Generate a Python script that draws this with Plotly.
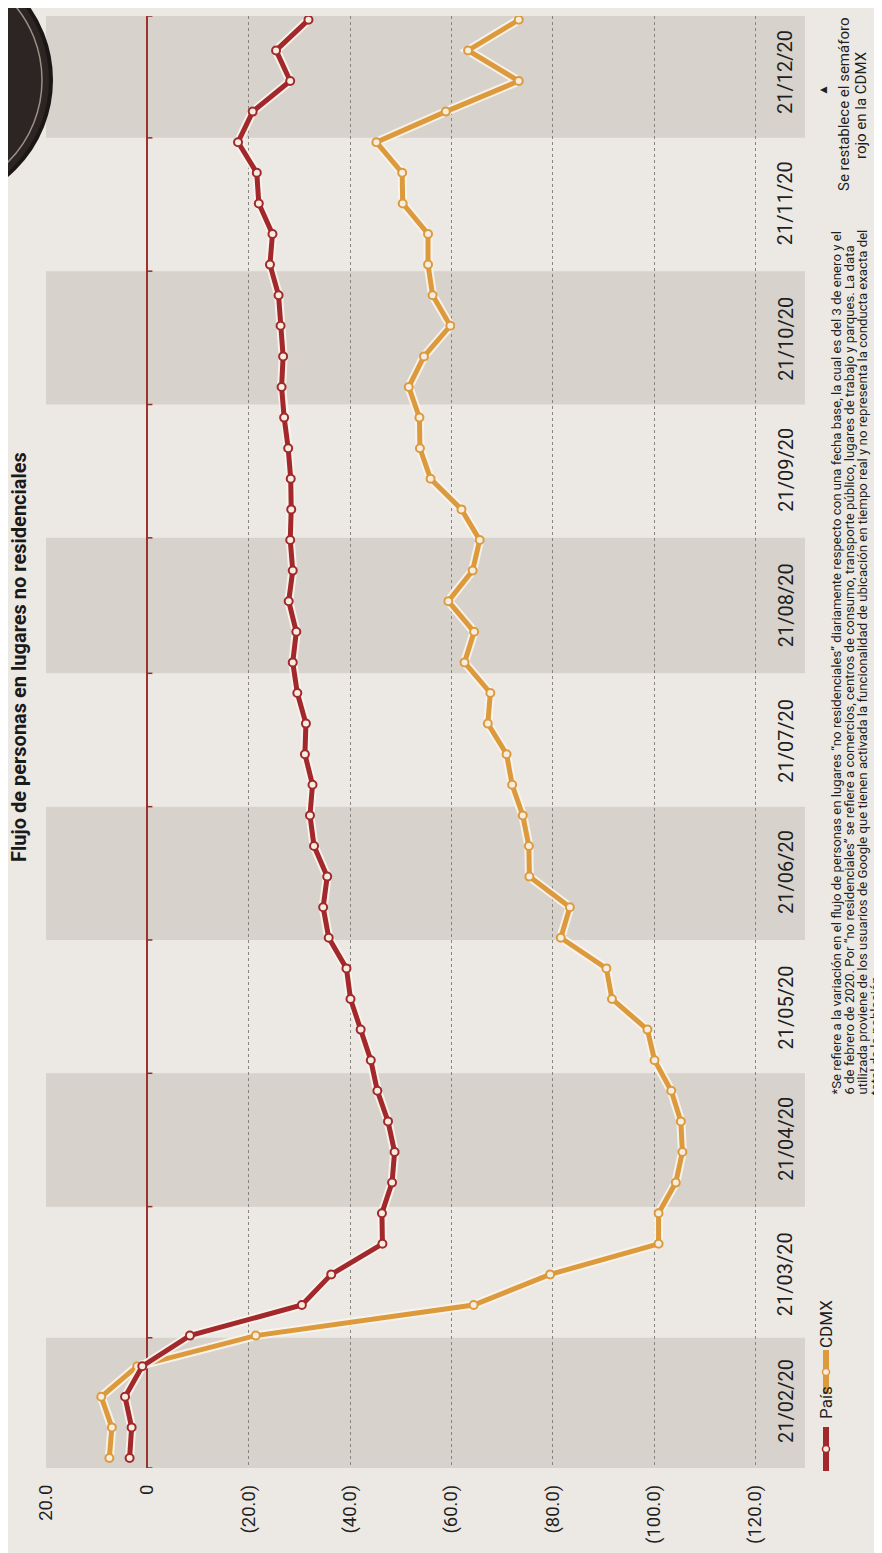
import plotly.graph_objects as go
import pandas as pd

# ---------------- data ----------------
start_date = "2020-02-08"
n_points = 48
pais = [3.5, 3.1, 4.4, 1.0, -8.4, -30.5, -36.3, -46.4, -46.3, -48.3, -48.8, -47.5, -45.4, -44.1,
        -42.1, -40.1, -39.3, -35.8, -34.7, -35.5, -32.9, -32.1, -32.6, -31.1, -31.3, -29.6, -28.7,
        -29.4, -27.9, -28.7, -28.2, -28.4, -28.3, -27.8, -27.0, -26.5, -26.8, -26.3, -25.9, -24.2,
        -24.7, -22.0, -21.6, -17.9, -20.8, -28.2, -25.4, -31.8]
cdmx = [7.5, 7.0, 9.1, 2.0, -21.4, -64.4, -79.5, -100.9, -100.9, -104.3, -105.6, -105.3, -103.4, -100.1,
        -98.7, -91.7, -90.6, -81.6, -83.4, -75.4, -75.3, -74.1, -72.0, -70.9, -67.2, -67.7, -62.6,
        -64.5, -59.4, -64.2, -65.6, -62.0, -55.9, -53.8, -53.7, -51.6, -54.6, -59.8, -56.3, -55.4,
        -55.4, -50.4, -50.3, -45.2, -58.9, -73.3, -63.3, -73.3]
tick_dates = ["2020-02-21", "2020-03-21", "2020-04-21", "2020-05-21", "2020-06-21", "2020-07-21",
              "2020-08-21", "2020-09-21", "2020-10-21", "2020-11-21", "2020-12-21"]
tick_labels = ["21/02/20", "21/03/20", "21/04/20", "21/05/20", "21/06/20", "21/07/20",
               "21/08/20", "21/09/20", "21/10/20", "21/11/20", "21/12/20"]
value_ticks = [20, 0, -20, -40, -60, -80, -100, -120]
value_labels = ["20.0", "0", "(20.0)", "(40.0)", "(60.0)", "(80.0)", "(100.0)", "(120.0)"]
series_names = ["País", "CDMX"]

title_text = "Flujo de personas en lugares no residenciales"
note_lines = [
    "*Se refiere a la variación en el flujo de personas en lugares “no residenciales” diariamente respecto con una fecha base, la cual es del 3 de enero y el",
    "6 de febrero de 2020. Por “no residenciales” se refiere a comercios, centros de consumo, transporte público, lugares de trabajo y parques. La data",
    "utilizada proviene de los usuarios de Google que tienen activada la funcionalidad de ubicación en tiempo real y no representa la conducta exacta del",
    "total de la población.",
]
event_lines = ["Se restablece el semáforo", "rojo en la CDMX"]

dates = pd.date_range(start_date, periods=n_points, freq="7D")
y_range = [pd.Timestamp("2020-02-05 17:00"), pd.Timestamp("2021-01-02 21:00")]

# ---------------- style ----------------
RED = "#a2282b"
ORANGE = "#dc9a3c"
PAPER = "#ece9e4"
GREY = "#d7d2cb"
INK = "#1f1f1f"
FONT = "Roboto"

W_FIG, H_FIG = 882, 1553
L, R, T, B = 38, 797, 8, 1460
PW, PH = R - L, B - T


def px(x):
    return (x - L) / PW


def py(y):
    return (B - y) / PH


fig = go.Figure()

# halo + lines
for vals, col, name in [(cdmx, ORANGE, series_names[1]), (pais, RED, series_names[0])]:
    fig.add_trace(go.Scatter(x=vals, y=dates, mode="lines", hoverinfo="skip",
                             line=dict(color="rgba(250,244,236,0.9)", width=9), showlegend=False))
    fig.add_trace(go.Scatter(x=vals, y=dates, mode="lines+markers", name=name,
                             line=dict(color=col, width=5),
                             marker=dict(symbol="circle", size=8, color="#f5ece2",
                                         line=dict(color=col, width=2)),
                             showlegend=False))

shapes = []
# alternating month bands
td = [pd.Timestamp(d) for d in tick_dates]
for i, d in enumerate(td):
    lo = y_range[0] if i == 0 else td[i - 1] + (d - td[i - 1]) / 2
    hi = y_range[1] if i == len(td) - 1 else d + (td[i + 1] - d) / 2
    if i % 2 == 0:
        shapes.append(dict(type="rect", xref="paper", yref="y", x0=0, x1=1, y0=lo, y1=hi,
                           fillcolor=GREY, line=dict(width=0), layer="below"))
    # tick marks on the zero axis at band boundaries
    for b in ([lo] if i == 0 else []) + [hi]:
        shapes.append(dict(type="line", xref="x", yref="y", x0=0, x1=-1.0, y0=b, y1=b,
                           line=dict(color="#8e2f2c", width=1.5), layer="above"))

# black badge circle top-left
cx, cy, r = -82, 72, 125
shapes.append(dict(type="circle", xref="paper", yref="paper",
                   x0=px(cx - r), x1=px(cx + r), y0=py(cy + r), y1=py(cy - r),
                   fillcolor="#2c2523", line=dict(color="#1c1716", width=4), layer="above"))
r2 = r - 9
shapes.append(dict(type="circle", xref="paper", yref="paper",
                   x0=px(cx - r2), x1=px(cx + r2), y0=py(cy + r2), y1=py(cy - r2),
                   fillcolor="rgba(0,0,0,0)", line=dict(color="#9c8f88", width=1.5), layer="above"))

# legend symbols (drawn manually, rotated layout)
leg = [(series_names[0], RED, 1441, 1395), (series_names[1], ORANGE, 1364, 1316)]
for name, col, ys, yt in leg:
    shapes.append(dict(type="line", xref="paper", yref="paper", x0=px(818), x1=px(818),
                       y0=py(ys + 22), y1=py(ys - 22), line=dict(color=col, width=6)))
    shapes.append(dict(type="circle", xref="paper", yref="paper",
                       x0=px(814.5), x1=px(821.5), y0=py(ys + 3.5), y1=py(ys - 3.5),
                       fillcolor="#f5ece2", line=dict(color=col, width=1.5)))

annotations = []
# date labels
for d, lab in zip(tick_dates, tick_labels):
    annotations.append(dict(x=-126, y=d, xref="x", yref="y", text=lab, showarrow=False,
                            textangle=-90, xanchor="center", yanchor="middle",
                            font=dict(family=FONT, size=20, color=INK)))
# legend texts
for name, col, ys, yt in leg:
    annotations.append(dict(x=px(818), y=py(yt), xref="paper", yref="paper", text=name,
                            showarrow=False, textangle=-90, xanchor="center", yanchor="middle",
                            font=dict(family=FONT, size=17, color=INK)))
# footnote
for j, line in enumerate(note_lines):
    annotations.append(dict(x=px(828 + 13 * j), y=py(1088), xref="paper", yref="paper",
                            text=line, showarrow=False, textangle=-90,
                            xanchor="center", yanchor="bottom", borderpad=0,
                            font=dict(family=FONT, size=13.2, color=INK)))
# event note
annotations.append(dict(x=px(815), y=py(82), xref="paper", yref="paper", text="▲",
                        showarrow=False, textangle=-90, xanchor="center", yanchor="middle",
                        font=dict(family=FONT, size=12, color=INK)))
for j, line in enumerate(event_lines):
    annotations.append(dict(x=px(836 + 17 * j), y=py(97), xref="paper", yref="paper",
                            text=line, showarrow=False, textangle=-90,
                            xanchor="center", yanchor="middle",
                            font=dict(family=FONT, size=15, color=INK)))
# title at the left edge
annotations.append(dict(x=px(11), y=py(443), xref="paper", yref="paper",
                        text="<b>" + title_text + "</b>", showarrow=False, textangle=-90,
                        xanchor="center", yanchor="top", borderpad=0,
                        font=dict(family=FONT, size=20, color="#1a1a1a")))

fig.update_layout(
    width=W_FIG, height=H_FIG,
    margin=dict(l=L, r=W_FIG - R, t=T, b=H_FIG - B),
    paper_bgcolor=PAPER, plot_bgcolor=PAPER,
    shapes=shapes, annotations=annotations,
    showlegend=False,
    xaxis=dict(range=[20, -129.8], tickvals=value_ticks, ticktext=value_labels,
               tickangle=-90, tickfont=dict(family=FONT, size=18.5, color=INK),
               showgrid=True, gridcolor="#8a847e", gridwidth=1, griddash="dot",
               zeroline=True, zerolinecolor="#9a3431", zerolinewidth=1.5,
               showline=False, ticks="", ticklabelstandoff=12, fixedrange=True),
    yaxis=dict(type="date", range=y_range, showgrid=False, zeroline=False,
               showticklabels=False, ticks="", showline=False, fixedrange=True),
)

fig.write_html("out.html")
